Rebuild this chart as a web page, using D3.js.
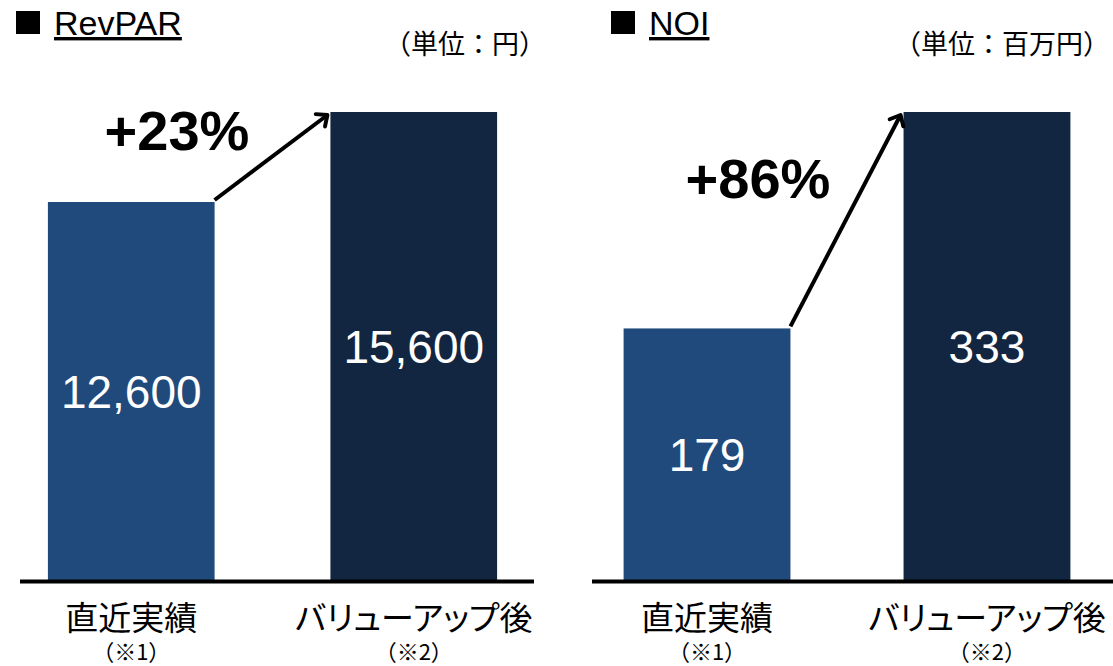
<!DOCTYPE html>
<html>
<head>
<meta charset="utf-8">
<script src="https://cdn.jsdelivr.net/npm/d3@7"></script>
<style>
  body { margin: 0; background: #fff; }
  svg text { font-family: "Liberation Sans", Arial, "Noto Sans CJK JP", sans-serif; }
  .jp { font-family: "Noto Sans CJK JP", sans-serif; }
  .palt { font-feature-settings: "palt"; }
</style>
</head>
<body>
<div id="chart"></div>
<script>
// data
var categories = ["直近実績", "バリューアップ後"];
var notes = ["（※1）", "（※2）"];
var titles = ["RevPAR", "NOI"];
var units = ["（単位：円）", "（単位：百万円）"];
var revparValues = [12600, 15600];
var noiValues = [179, 333];
var changeLabels = ["+23%", "+86%"];
var barColors = ["#214a7c", "#132641"];

var svg = d3.select("#chart").append("svg")
    .attr("width", 1113)
    .attr("height", 666);

var defs = svg.append("defs");
defs.append("marker")
    .attr("id", "head")
    .attr("viewBox", "-10 -10 20 20")
    .attr("refX", 0).attr("refY", 0)
    .attr("markerWidth", 22).attr("markerHeight", 22)
    .attr("markerUnits", "userSpaceOnUse")
    .attr("orient", "auto")
    .append("path")
    .attr("d", "M-8,-7 L0,0 L-8,7")
    .attr("fill", "none")
    .attr("stroke", "#000")
    .attr("stroke-width", 3.6)
    .attr("stroke-linecap", "round")
    .attr("stroke-linejoin", "round");

var baseY = 580, topY = 112;

// per panel layout
var panels = [
  { values: revparValues, range: [14, 531], po: 0.12, pi: 0.41, line: [20, 534],
    titleX: 16, unitX: 384, pctX: 177, pctY: 150 },
  { values: noiValues, range: [590, 1104], po: 0.12, pi: 0.404, line: [592, 1113],
    titleX: 611, unitX: 894, pctX: 758, pctY: 198 }
];

panels.forEach(function(p, i) {
    var g = svg.append("g");

    var x = d3.scaleBand()
        .domain(categories)
        .range(p.range)
        .paddingInner(p.pi)
        .paddingOuter(p.po);

    var y = d3.scaleLinear()
        .domain([0, d3.max(p.values)])
        .range([baseY, topY]);

    // bars
    g.selectAll("rect.bar")
        .data(p.values)
        .enter().append("rect")
        .attr("class", "bar")
        .attr("x", function(d, j) { return x(categories[j]); })
        .attr("y", function(d) { return y(d); })
        .attr("width", x.bandwidth())
        .attr("height", function(d) { return y(0) - y(d); })
        .attr("fill", function(d, j) { return barColors[j]; });

    // value labels
    g.selectAll("text.val")
        .data(p.values)
        .enter().append("text")
        .attr("class", "val")
        .attr("x", function(d, j) { return x(categories[j]) + x.bandwidth() / 2; })
        .attr("y", function(d) { return (y(d) + y(0)) / 2 + 16.5; })
        .attr("text-anchor", "middle")
        .attr("fill", "#fff")
        .attr("font-size", 46)
        .text(function(d) { return d3.format(",")(d); });

    // baseline
    g.append("line")
        .attr("x1", p.line[0]).attr("x2", p.line[1])
        .attr("y1", y(0) + 1.5).attr("y2", y(0) + 1.5)
        .attr("stroke", "#000")
        .attr("stroke-width", 4);

    // category labels
    g.selectAll("text.cat")
        .data(categories)
        .enter().append("text")
        .attr("class", "cat jp palt")
        .attr("x", function(d) { return x(d) + x.bandwidth() / 2; })
        .attr("y", 630)
        .attr("text-anchor", "middle")
        .attr("font-size", 33)
        .attr("fill", "#000")
        .text(function(d) { return d; });

    g.selectAll("text.note")
        .data(notes)
        .enter().append("text")
        .attr("class", "note jp")
        .attr("x", function(d, j) { return x(categories[j]) + x.bandwidth() / 2; })
        .attr("y", 660)
        .attr("text-anchor", "middle")
        .attr("font-size", 22)
        .attr("fill", "#000")
        .text(function(d) { return d; });

    // arrow from bar1 top-right to bar2 top-left
    var x1 = x(categories[0]) + x.bandwidth(),
        y1 = y(p.values[0]) - 2,
        x2 = x(categories[1]) - 3,
        y2 = y(p.values[1]) + 3;
    g.append("line")
        .attr("x1", x1).attr("y1", y1)
        .attr("x2", x2).attr("y2", y2)
        .attr("stroke", "#000")
        .attr("stroke-width", 4)
        .attr("marker-end", "url(#head)");

    // change label
    g.append("text")
        .attr("x", p.pctX)
        .attr("y", p.pctY)
        .attr("text-anchor", "middle")
        .attr("font-size", 56)
        .attr("font-weight", "bold")
        .attr("fill", "#000")
        .text(changeLabels[i]);

    // title
    g.append("rect")
        .attr("x", p.titleX).attr("y", 11)
        .attr("width", 24).attr("height", 23)
        .attr("fill", "#000");
    g.append("text")
        .attr("x", p.titleX + 38)
        .attr("y", 35)
        .attr("font-size", 34)
        .attr("fill", "#000")
        .attr("text-decoration", "underline")
        .text(titles[i]);

    // unit
    g.append("text")
        .attr("class", "jp")
        .attr("x", p.unitX)
        .attr("y", 54)
        .attr("font-size", 27)
        .attr("fill", "#000")
        .text(units[i]);
});
</script>
</body>
</html>
